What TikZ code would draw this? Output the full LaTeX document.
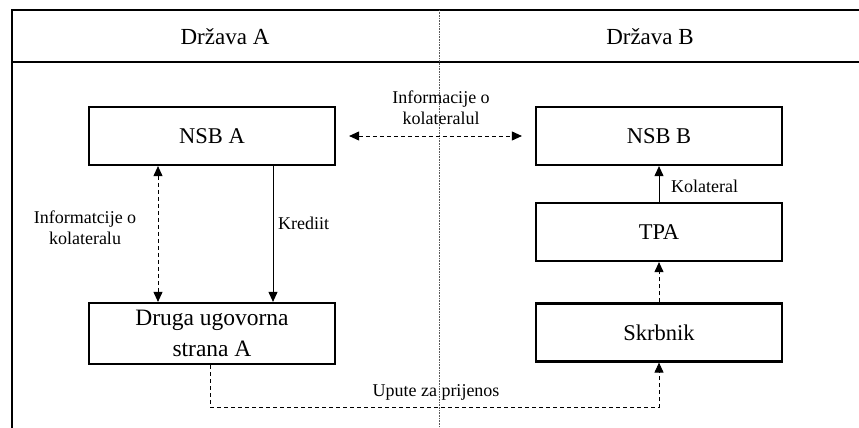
\documentclass[tikz,border=0pt]{standalone}
\usepackage{fontspec}
\setmainfont{Liberation Serif}
\usetikzlibrary{arrows.meta}
\begin{document}
\begin{tikzpicture}[x=1pt,y=-1pt,
  box/.style={draw,line width=2.2pt,minimum width=246pt,minimum height=58pt,inner sep=0pt,font=\fontsize{22.5}{24}\selectfont,align=center},
  lbl/.style={font=\fontsize{18}{21}\selectfont,align=center,inner sep=0pt},
  hdr/.style={font=\fontsize{23}{26}\selectfont,inner sep=0pt},
  conn/.style={line width=0.9pt,-{Triangle[length=10pt,width=9pt]}},
  dconn/.style={conn,dash pattern=on 4pt off 3pt},
  ddconn/.style={dconn,{Triangle[length=10pt,width=9pt]}-{Triangle[length=10pt,width=9pt]}}]
\useasboundingbox (0,0) rectangle (859,428);
% frame
\draw[line width=2.4pt] (859,10) -- (12,10) -- (12,428);
\draw[line width=2.4pt] (12,62) -- (859,62);
\draw[line width=0.6pt,densely dotted,gray!70!black] (439,10) -- (439,428);
\node[hdr] (hA) at (225,37) {Država A};
\node[hdr] (hB) at (650,37) {Država B};
% boxes
\node[box] (nsbA) at (212,136) {NSB A};
\node[box] (nsbB) at (659,136) {NSB B};
\node[box] (tpa) at (659,232) {TPA};
\node[box] (skr) at (659,332.5) {Skrbnik};
\node[box,minimum height=61pt,font=\fontsize{23.5}{31}\selectfont] (druga) at (212,333.5) {Druga ugovorna\\strana A};
% connectors
\draw[ddconn,shorten <=13pt,shorten >=13pt] (nsbA.east) -- (nsbB.west);
\node[lbl] (l1) at (441,108) {Informacije o\\kolateralul};
\draw[ddconn] ([xshift=-54pt]nsbA.south) -- ([xshift=-54pt]druga.north);
\node[lbl] (l2) at (85,228) {Informatcije o\\kolateralu};
\draw[conn] ([xshift=61pt]nsbA.south) -- ([xshift=61pt]druga.north);
\node[lbl,anchor=west] (l3) at (278,223) {Krediit};
\draw[conn] (tpa.north) -- (nsbB.south);
\node[lbl,anchor=west] (l4) at (671,186) {Kolateral};
\draw[dconn] (skr.north) -- (tpa.south);
\draw[dconn] ([xshift=-2pt]druga.south) -- ++(0,42) -| (skr.south);
\node[lbl] (l5) at (436,392) {Upute za prijenos};
\end{tikzpicture}
\end{document}
